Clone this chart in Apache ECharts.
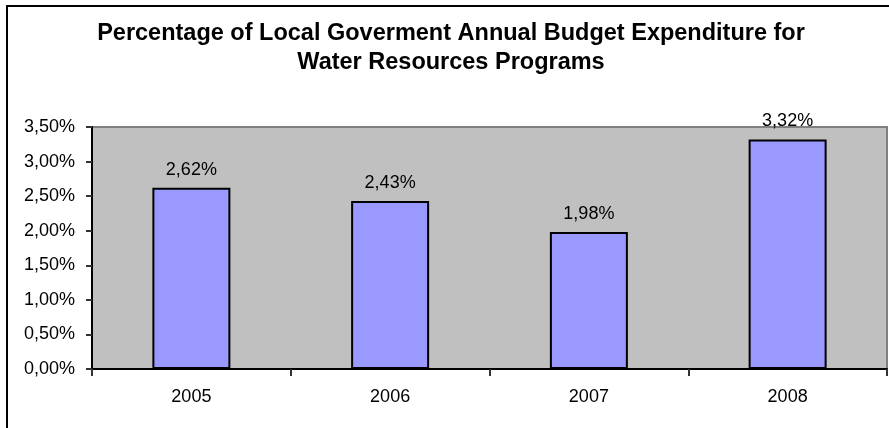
<!DOCTYPE html>
<html>
<head>
<meta charset="utf-8">
<script src="https://cdn.jsdelivr.net/npm/echarts@6/dist/echarts.min.js"></script>
<style>
  html, body { margin: 0; padding: 0; background: #fff; overflow: hidden; }
  #chart { position: absolute; left: 0; top: 0; width: 889px; height: 428px; }
  /* frame around the chart (only the left and top edges fall inside the view) */
  #frame { position: absolute; left: 6px; top: 5px; width: 900px; height: 440px;
           border: 2px solid #000; pointer-events: none; }
</style>
</head>
<body>
<div id="chart"></div>
<div id="frame"></div>
<script>
// Budget share per year (percent)
const years = ['2005', '2006', '2007', '2008'];
const shares = [2.62, 2.43, 1.98, 3.32];
// Value axis range
const yMin = 0;
const yMax = 3.5;
const yStep = 0.5;

const pct = v => v.toFixed(2).replace('.', ',') + '%';

const chart = echarts.init(document.getElementById('chart'), null, { renderer: 'canvas' });
chart.setOption({
  animation: false,
  backgroundColor: '#ffffff',
  textStyle: { fontFamily: 'Liberation Sans, Arial, sans-serif' },
  title: {
    text: 'Percentage of Local Goverment Annual Budget Expenditure for\nWater Resources Programs',
    left: 451,
    top: 19,
    padding: 0,
    textAlign: 'center',
    textStyle: {
      fontFamily: 'Liberation Sans, Arial, sans-serif',
      fontSize: 23.5,
      fontWeight: 'bold',
      color: '#000',
      lineHeight: 29
    }
  },
  grid: {
    left: 92,
    right: 2,
    top: 127,
    bottom: 59,
    show: true,
    backgroundColor: '#c0c0c0',
    borderColor: '#808080',
    borderWidth: 2
  },
  xAxis: {
    type: 'category',
    data: years,
    axisLine: { lineStyle: { color: '#000', width: 2 } },
    axisTick: { show: true, length: 7, lineStyle: { color: '#333', width: 2 } },
    axisLabel: { fontSize: 18, color: '#000', margin: 19 },
    splitLine: { show: false }
  },
  yAxis: {
    type: 'value',
    min: yMin,
    max: yMax,
    interval: yStep,
    axisLine: { show: true, lineStyle: { color: '#000', width: 2 } },
    axisTick: { show: true, length: 6, lineStyle: { color: '#333', width: 2 } },
    axisLabel: { fontSize: 18, color: '#000', margin: 17, formatter: pct },
    splitLine: { show: false }
  },
  series: [{
    type: 'bar',
    data: shares,
    barWidth: 78,
    itemStyle: { color: '#9999ff', borderColor: '#000', borderWidth: 2 },
    label: {
      show: true,
      position: 'top',
      distance: 9,
      fontSize: 18,
      color: '#000',
      formatter: p => pct(p.value)
    }
  }]
});
</script>
</body>
</html>
